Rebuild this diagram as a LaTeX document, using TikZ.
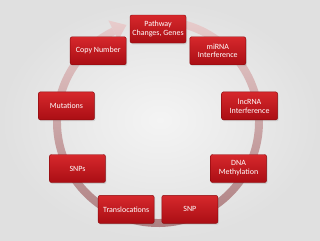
\documentclass[tikz,border=0pt]{standalone}
\usepackage{fontspec}
\setmainfont{Carlito}
\usetikzlibrary{shadows}
\definecolor{boxRedTop}{RGB}{214, 40, 44}
\definecolor{boxRedBot}{RGB}{170, 14, 20}
\definecolor{boxEdge}{RGB}{140, 10, 14}
\definecolor{ringTop}{RGB}{232, 204, 204}
\definecolor{ringBot}{RGB}{172, 126, 128}
\definecolor{bgInner}{RGB}{244, 244, 244}
\definecolor{bgOuter}{RGB}{224, 224, 224}

\begin{document}
\begin{tikzpicture}[x=0.03cm, y=0.03cm,
    stepbox/.style={draw=boxEdge, rounded corners=0.06cm, top color=boxRedTop, bottom color=boxRedBot,
      minimum width=1.68cm, minimum height=0.84cm, inner sep=1pt, align=center, text=white,
      font=\fontsize{6.8}{7.6}\selectfont,
      drop shadow={opacity=0.25, shadow xshift=0.03cm, shadow yshift=-0.04cm}}]
        % Background
        \shade[inner color=bgInner, outer color=bgOuter] (-158,-118) rectangle (162,122);
        \useasboundingbox (-158,-118) rectangle (162,122);
        % Ring and its arrow head
        \shade[top color=ringTop, bottom color=ringBot] (85:105) arc[start angle=85, end angle=-244, radius=105]
          -- (-244:97) arc[start angle=-244, end angle=85, radius=97] -- cycle;
        \shade[top color=ringTop, bottom color=ringTop!90!ringBot] (116:91) -- (116:113) -- (108:102) -- cycle;
        % Steps round the ring
        \foreach \ang/\nm/\txt in {90/pathway/{Pathway\\Changes, Genes}, 50/mirna/{miRNA\\Interference},
            10/lncrna/{lncRNA\\Interference}, -30/dna/{DNA\\Methylation}, -70/snp/SNP,
            -110/transloc/Translocations, -150/snps/SNPs, 170/mutations/Mutations, 130/copynum/Copy Number}
          \node[stepbox] (\nm) at (\ang:93) {\txt};
      \end{tikzpicture}
\end{document}
